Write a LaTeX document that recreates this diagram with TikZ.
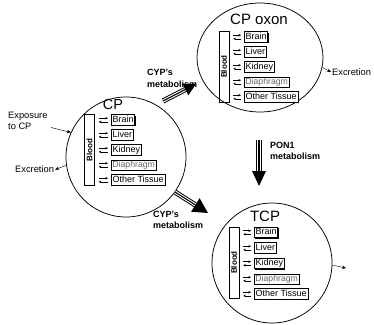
\documentclass[tikz,border=0pt]{standalone}
\usepackage{fontspec}
\setmainfont{Liberation Sans}
\usetikzlibrary{calc,shapes.geometric,shadows,arrows.meta}
\newcommand\fatarrow[4]{%
  \coordinate (fab) at ($(#2)!#3!(#1)$);
  \draw[line width=5.2pt] (#1) -- (fab);
  \draw[line width=3.2pt,white] (#1) -- (fab);
  \draw[line width=1.1pt] (#1) -- (fab);
  \fill (#2) -- ($(fab)!#4!90:(#2)$) -- ($(fab)!#4!-90:(#2)$) -- cycle;
}
\begin{document}
\begin{tikzpicture}[x=1pt,y=-1pt,
  organ/.style={draw, line width=0.7pt, anchor=west, inner xsep=1.2pt, inner ysep=0pt,
    minimum height=10.5pt, text height=6.8pt, text depth=1.9pt,
    font=\fontsize{9}{9}\selectfont, fill=white,
    drop shadow={shadow xshift=0.8pt, shadow yshift=-0.8pt, opacity=1, fill=black}},
  dia/.style={draw, line width=0.45pt, anchor=west, inner xsep=1.2pt, inner ysep=0pt,
    minimum height=10.5pt, text height=6.8pt, text depth=1.9pt,
    font=\fontsize{8.7}{9}\selectfont, text=black!60, fill=white,
    drop shadow={shadow xshift=0.6pt, shadow yshift=-0.6pt, opacity=1, fill=black!55}},
  blood/.style={draw, line width=0.5pt, minimum width=10pt, minimum height=71pt, inner sep=0pt},
  bloodtxt/.style={rotate=90, inner sep=0pt, font=\fontsize{8}{8}\selectfont\bfseries},
  comp/.style={circle, draw, line width=0.75pt, minimum size=120pt, inner sep=0pt},
  ttl/.style={inner sep=0pt, font=\fontsize{14.5}{14.5}\selectfont},
  lbl/.style={inner sep=1pt, font=\fontsize{9.3}{11}\selectfont, align=left},
  met/.style={inner sep=0pt, font=\fontsize{9}{11.5}\selectfont\bfseries, align=left, anchor=west},
  ex/.style={-{Stealth[length=4pt,width=3.4pt]}, line width=0.4pt},
  xch/.style={-{Stealth[length=2.6pt,width=2.4pt]}, line width=0.55pt},
]
\useasboundingbox (0,0) rectangle (374,324);

% ---------------- CP compartment
\node[comp] (cp) at (126,157) {};
\node[ttl] (cpt) at (113,104.5) {CP};
\node[blood] (b1) at (89.5,150) {};
\node[bloodtxt] (b1t) at (b1) {Blood};
\node[organ] (cpa) at (111,120) {Brain};
\node[organ] (cpb) at (111,135) {Liver};
\node[organ] (cpc) at (111,150) {Kidney};
\node[dia]   (cpd) at (111,165) {Diaphragm};
\node[organ] (cpe) at (111,180) {Other Tissue};
\foreach \o in {cpa,cpb,cpc,cpd,cpe}{
  \draw[xch] ($(b1.east|-\o.west)+(4,-1.8)$) -- ($(\o.west)+(-3,-1.8)$);
  \draw[xch] ($(\o.west)+(-3,1.8)$) -- ($(b1.east|-\o.west)+(4,1.8)$);
}

% ---------------- CP oxon compartment
\node[ellipse, draw, line width=0.75pt, minimum width=126pt, minimum height=109pt, inner sep=0pt] (cpo) at (260,57.5) {};
\node[ttl, font=\fontsize{15}{15}\selectfont] (cpot) at (259,19.5) {CP oxon};
\node[blood] (b2) at (224,66.5) {};
\node[bloodtxt] (b2t) at (b2) {Blood};
\node[organ] (coa) at (244,37) {Brain};
\node[organ] (cob) at (244,52) {Liver};
\node[organ] (coc) at (244,67) {Kidney};
\node[dia]   (cod) at (244,82) {Diaphragm};
\node[organ] (coe) at (244,97) {Other Tissue};
\foreach \o in {coa,cob,coc,cod,coe}{
  \draw[xch] ($(b2.east|-\o.west)+(4,-1.8)$) -- ($(\o.west)+(-3,-1.8)$);
  \draw[xch] ($(\o.west)+(-3,1.8)$) -- ($(b2.east|-\o.west)+(4,1.8)$);
}

% ---------------- TCP compartment
\node[comp] (tcp) at (272,263) {};
\node[ttl, font=\fontsize{15}{15}\selectfont] (tcpt) at (265,216.5) {TCP};
\node[blood] (b3) at (234,262.5) {};
\node[bloodtxt] (b3t) at (b3) {Blood};
\node[organ] (tca) at (254,232.5) {Brain};
\node[organ] (tcb) at (254,248) {Liver};
\node[organ] (tcc) at (254,263.5) {Kidney};
\node[dia]   (tcd) at (254,279) {Diaphragm};
\node[organ] (tce) at (254,294) {Other Tissue};
\foreach \o in {tca,tcb,tcc,tcd,tce}{
  \draw[xch] ($(b3.east|-\o.west)+(4,-1.8)$) -- ($(\o.west)+(-3,-1.8)$);
  \draw[xch] ($(\o.west)+(-3,1.8)$) -- ($(b3.east|-\o.west)+(4,1.8)$);
}

% ---------------- metabolism arrows
\coordinate (m1s) at (163,101);
\coordinate (m1t) at (196,84);
\fatarrow{m1s}{m1t}{12pt}{6.5pt}
\node[met] (m1l) at (147,78.5) {CYP's\\metabolism};

\coordinate (m2s) at (175,192);
\coordinate (m2t) at (208,213);
\fatarrow{m2s}{m2t}{15pt}{8pt}
\node[met] (m2l) at (153,220) {CYP's\\metabolism};

\coordinate (m3s) at (259,140);
\coordinate (m3t) at (259,186);
\fatarrow{m3s}{m3t}{15pt}{7pt}
\node[met] (m3l) at (270,151) {PON1\\metabolism};

% ---------------- exposure / excretion
\node[lbl, anchor=west] (expo) at (7,121) {Exposure\\to CP};
\coordinate (expoA) at (51,127.5);
\draw[ex] (expoA) -- (cp.156);

\node[lbl, anchor=west] (exc1) at (14,169.5) {Excretion};
\draw[ex] (cp.188) -- (exc1.east);

\node[lbl, anchor=west] (exc2) at (331,72) {Excretion};
\draw[ex] (cpo.-9) -- (exc2.west);

\coordinate (tcpout) at (346,268);
\draw[ex] (tcp.-2) -- (tcpout);
\end{tikzpicture}
\end{document}
